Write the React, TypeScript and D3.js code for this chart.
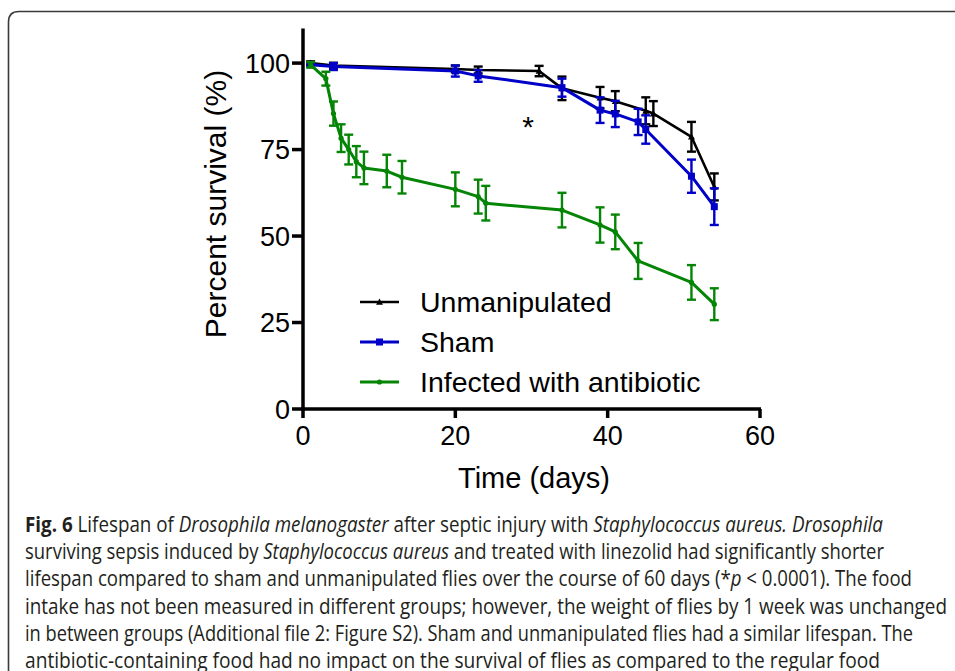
import * as d3 from "d3";

// Unmanipulated (black, triangles)
const unmanipDays = [1, 4, 20, 23, 31, 34, 39, 41, 45, 46, 51, 54];
const unmanipVals = [100, 99.3, 98.3, 98, 97.7, 92.7, 90, 89, 86.2, 85.4, 78.7, 64.2];
const unmanipErr = [0.5, 0.8, 1, 1, 1.5, 3.4, 3.1, 2.9, 3.9, 3.6, 4.3, 3.9];

// Sham (blue, squares)
const shamDays = [1, 4, 20, 23, 34, 39, 41, 44, 45, 51, 54];
const shamVals = [99.5, 99, 97.7, 96.3, 92.9, 86.4, 85.3, 83, 80.8, 67.3, 58.5];
const shamErr = [0.5, 1, 1.6, 1.7, 2.6, 3.7, 3.8, 3.8, 4.1, 4.8, 5.3];

// Infected with antibiotic (green, circles)
const infDays = [1, 3, 4, 5, 6, 7, 8, 11, 13, 20, 23, 24, 34, 39, 41, 44, 51, 54];
const infVals = [99.5, 95.5, 85.4, 78.3, 75, 71.5, 69.7, 68.8, 67, 63.5, 61.4, 59.5, 57.5, 53.2, 51.2, 42.8, 36.6, 30.3];
const infErr = [0.8, 2, 3.5, 4, 4.3, 4.5, 4.7, 4.7, 4.7, 4.9, 4.9, 5, 5, 5.1, 5, 5.2, 5, 4.6];

const xTicks = [0, 20, 40, 60];
const yTicks = [0, 25, 50, 75, 100];
const legendLabels = ["Unmanipulated", "Sham", "Infected with antibiotic"];

const captionEnds = [883, 884, 912, 947, 913, 880];

const W = 955;
const H = 671;
const font = "'Liberation Sans', Arial, sans-serif";

const x = d3.scaleLinear().domain([0, 60]).range([303, 760]);
const y = d3.scaleLinear().domain([0, 110]).range([409, 28.5]);

type Pt = { d: number; v: number; e: number };
const zip = (ds: number[], vs: number[], es: number[]): Pt[] =>
  ds.map((d, i) => ({ d, v: vs[i], e: es[i] }));

const series = [
  { name: legendLabels[0], color: "#000000", marker: "tri", pts: zip(unmanipDays, unmanipVals, unmanipErr), width: 2.6 },
  { name: legendLabels[1], color: "#0000c8", marker: "sq", pts: zip(shamDays, shamVals, shamErr), width: 3 },
  { name: legendLabels[2], color: "#058505", marker: "dot", pts: zip(infDays, infVals, infErr), width: 3 },
];

const line = d3
  .line<Pt>()
  .x((p) => x(p.d))
  .y((p) => y(p.v));

const Marker = ({ kind, cx, cy, color }: { kind: string; cx: number; cy: number; color: string }) => {
  if (kind === "tri") {
    const s = 3.5;
    return <path d={`M${cx},${cy - s} L${cx + s},${cy + s * 0.8} L${cx - s},${cy + s * 0.8}Z`} fill={color} />;
  }
  if (kind === "sq") return <rect x={cx - 3.5} y={cy - 3.5} width={7} height={7} fill={color} />;
  return <circle cx={cx} cy={cy} r={2.6} fill={color} />;
};

const Caption = () => {
  const lines: React.ReactNode[] = [
    <>
      <tspan fontWeight="bold">Fig. 6</tspan>
      {" Lifespan of "}
      <tspan fontStyle="italic">Drosophila melanogaster</tspan>
      {" after septic injury with "}
      <tspan fontStyle="italic">Staphylococcus aureus.</tspan>{" "}
      <tspan fontStyle="italic">Drosophila</tspan>
    </>,
    <>
      {"surviving sepsis induced by "}
      <tspan fontStyle="italic">Staphylococcus aureus</tspan>
      {" and treated with linezolid had significantly shorter"}
    </>,
    <>
      {"lifespan compared to sham and unmanipulated flies over the course of 60 days (*"}
      <tspan fontStyle="italic">p</tspan>
      {" < 0.0001). The food"}
    </>,
    <>{"intake has not been measured in different groups; however, the weight of flies by 1 week was unchanged"}</>,
    <>{"in between groups (Additional file 2: Figure S2). Sham and unmanipulated flies had a similar lifespan. The"}</>,
    <>{"antibiotic-containing food had no impact on the survival of flies as compared to the regular food"}</>,
  ];
  return (
    <g fill="#231f20" fontFamily="'Liberation Sans Narrow', 'Open Sans', sans-serif" fontSize={21}>
      {lines.map((l, i) => (
        <text key={i} x={25} y={531.5 + i * 27.35} textLength={captionEnds[i] - 25} lengthAdjust="spacingAndGlyphs">
          {l}
        </text>
      ))}
    </g>
  );
};

export default function App() {
  return (
    <svg width={W} height={H} style={{ position: "absolute", left: 0, top: 0, background: "#fff" }}>
      {/* frame */}
      <path d={`M8.5,${H + 5} L8.5,22 Q8.5,11.5 19,11.5 L${W + 5},11.5`} fill="none" stroke="#3a3a3a" strokeWidth={1.6} />

      {/* axes */}
      <g stroke="#000" strokeWidth={3.5}>
        <line x1={303} x2={303} y1={28.5} y2={411} />
        <line x1={301} x2={761} y1={409} y2={409} />
        {yTicks.map((t) => (
          <line key={"y" + t} x1={292} x2={303} y1={y(t)} y2={y(t)} />
        ))}
        {xTicks.map((t) => (
          <line key={"x" + t} x1={x(t)} x2={x(t)} y1={409} y2={418} />
        ))}
      </g>
      <g fontFamily={font} fontSize={27} fill="#000">
        {yTicks.map((t) => (
          <text key={t} x={290} y={y(t)} dy="0.36em" textAnchor="end">
            {t}
          </text>
        ))}
        {xTicks.map((t) => (
          <text key={t} x={x(t)} y={445} textAnchor="middle">
            {t}
          </text>
        ))}
        <text x={534} y={488} textAnchor="middle" fontSize={29}>
          Time (days)
        </text>
        <text transform="translate(226,204) rotate(-90)" textAnchor="middle" fontSize={30}>
          Percent survival (%)
        </text>
        <text x={528} y={137} textAnchor="middle" fontSize={30}>
          *
        </text>
      </g>

      {/* series */}
      {series.map((s) => (
        <g key={s.name}>
          <path d={line(s.pts) ?? ""} fill="none" stroke={s.color} strokeWidth={s.width} strokeLinejoin="round" />
          {s.pts.map((p, i) => (
            <g key={i} stroke={s.color} strokeWidth={2.4}>
              <line x1={x(p.d)} x2={x(p.d)} y1={y(p.v + p.e)} y2={y(p.v - p.e)} />
              <line x1={x(p.d) - 4.5} x2={x(p.d) + 4.5} y1={y(p.v + p.e)} y2={y(p.v + p.e)} />
              <line x1={x(p.d) - 4.5} x2={x(p.d) + 4.5} y1={y(p.v - p.e)} y2={y(p.v - p.e)} />
            </g>
          ))}
          {s.pts.map((p, i) => (
            <Marker key={i} kind={s.marker} cx={x(p.d)} cy={y(p.v)} color={s.color} />
          ))}
        </g>
      ))}

      {/* legend */}
      <g fontFamily={font} fontSize={28.5}>
        {series.map((s, i) => {
          const ly = 302 + i * 40;
          return (
            <g key={s.name}>
              <line x1={360} x2={399} y1={ly} y2={ly} stroke={s.color} strokeWidth={s.width} />
              <Marker kind={s.marker} cx={379.5} cy={ly} color={s.color} />
              <text x={420} y={ly} dy="0.36em" fill="#000">
                {s.name}
              </text>
            </g>
          );
        })}
      </g>

      <Caption />
    </svg>
  );
}
